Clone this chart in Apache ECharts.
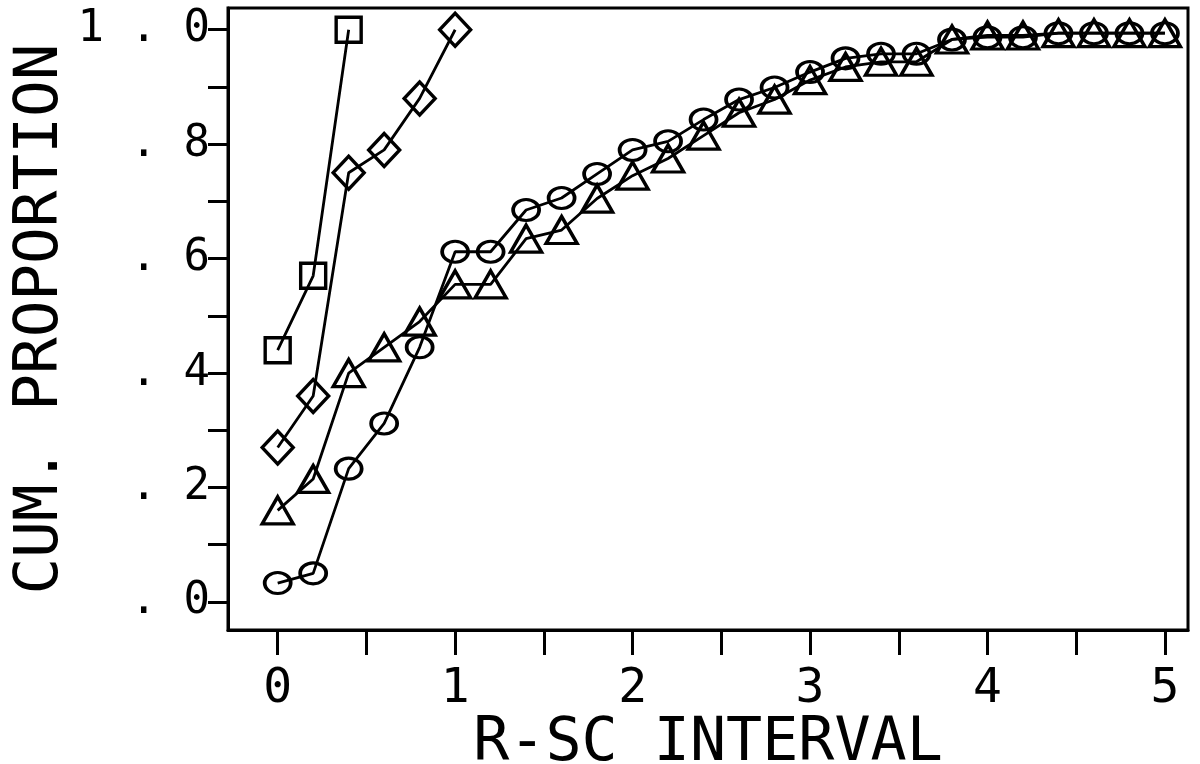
<!DOCTYPE html>
<html>
<head>
<meta charset="utf-8">
<script src="https://cdn.jsdelivr.net/npm/echarts@6/dist/echarts.min.js"></script>
<style>
  html, body { margin: 0; padding: 0; background: #fff; }
  #chart { width: 1200px; height: 764px; }
</style>
</head>
<body>
<div id="chart"></div>
<script>
// R-SC 区间取值（横轴）
var intervals = [0, 0.2, 0.4, 0.6, 0.8, 1.0, 1.2, 1.4, 1.6, 1.8, 2.0, 2.2, 2.4,
  2.6, 2.8, 3.0, 3.2, 3.4, 3.6, 3.8, 4.0, 4.2, 4.4, 4.6, 4.8, 5.0];

// 各组累计比例
var squareVals = [0.44, 0.57, 1.0];
var diamondVals = [0.27, 0.36, 0.75, 0.79, 0.88, 1.0];
var triangleVals = [0.16, 0.215, 0.40, 0.445, 0.49, 0.555, 0.555, 0.635, 0.65, 0.705,
  0.745, 0.775, 0.815, 0.855, 0.878, 0.912, 0.935, 0.944, 0.944, 0.983, 0.99, 0.99,
  0.994, 0.994, 0.994, 0.994];
var circleVals = [0.033, 0.05, 0.233, 0.312, 0.445, 0.612, 0.612, 0.685, 0.706, 0.748,
  0.79, 0.805, 0.843, 0.878, 0.899, 0.926, 0.95, 0.958, 0.958, 0.983, 0.987, 0.987,
  0.994, 0.994, 0.994, 0.994];

// 刻度
var xLabelVals = [0, 1, 2, 3, 4, 5];
var xTickVals = [0, 0.5, 1, 1.5, 2, 2.5, 3, 3.5, 4, 4.5, 5];
var yLabelVals = [0, 0.2, 0.4, 0.6, 0.8, 1.0];
var yLabelText = ['. 0', '. 2', '. 4', '. 6', '. 8', '1 . 0'];
var yTickVals = [0, 0.1, 0.2, 0.3, 0.4, 0.5, 0.6, 0.7, 0.8, 0.9, 1.0];

function pairs(vals) {
  return vals.map(function (v, i) { return [intervals[i], v]; });
}

var font = 'DejaVu Sans Mono';

function makeSeries(name, symbol, size, vals) {
  return {
    name: name,
    type: 'line',
    symbol: symbol,
    symbolSize: size,
    showAllSymbol: true,
    lineStyle: { color: '#000', width: 2.8 },
    itemStyle: { color: 'transparent', borderColor: '#000', borderWidth: 3.4 },
    emphasis: { disabled: true },
    animation: false,
    data: pairs(vals)
  };
}

var chart = echarts.init(document.getElementById('chart'));
chart.setOption({
  animation: false,
  grid: {
    left: 228, right: 12, top: 8, bottom: 134,
    outerBoundsMode: 'none',
    containLabel: false,
    show: true, borderColor: '#000', borderWidth: 3, backgroundColor: 'transparent'
  },
  xAxis: {
    type: 'value',
    min: -0.28,
    max: 5.13,
    name: 'R-SC INTERVAL',
    nameLocation: 'middle',
    nameGap: 84,
    nameMoveOverlap: false,
    nameTextStyle: { fontFamily: font, fontSize: 60, color: '#000' },
    axisLine: { show: true, onZero: false, lineStyle: { color: '#000', width: 3 } },
    axisTick: { show: true, inside: false, length: 25, lineStyle: { color: '#000', width: 3 }, customValues: xTickVals },
    axisLabel: { fontFamily: font, fontSize: 48, color: '#000', margin: 36, customValues: xLabelVals },
    splitLine: { show: false }
  },
  yAxis: {
    type: 'value',
    min: -0.049,
    max: 1.038,
    name: 'CUM. PROPORTION',
    nameLocation: 'middle',
    nameRotate: 90,
    nameGap: 156,
    nameMoveOverlap: false,
    nameTextStyle: { fontFamily: font, fontSize: 61, color: '#000' },
    axisLine: { show: true, onZero: false, lineStyle: { color: '#000', width: 3 } },
    axisTick: { show: true, inside: false, length: 20, lineStyle: { color: '#000', width: 3 }, customValues: yTickVals },
    axisLabel: {
      fontFamily: font, fontSize: 44, color: '#000', margin: 18,
      customValues: yLabelVals,
      formatter: function (v) {
        var i = yLabelVals.findIndex(function (t) { return Math.abs(t - v) < 1e-6; });
        return i >= 0 ? yLabelText[i] : '';
      }
    },
    splitLine: { show: false }
  },
  series: [
    makeSeries('square', 'rect', 25, squareVals),
    makeSeries('diamond', 'diamond', [31, 33], diamondVals),
    makeSeries('triangle', 'triangle', [31, 27], triangleVals),
    makeSeries('circle', 'circle', [26, 21], circleVals)
  ]
});
</script>
</body>
</html>
